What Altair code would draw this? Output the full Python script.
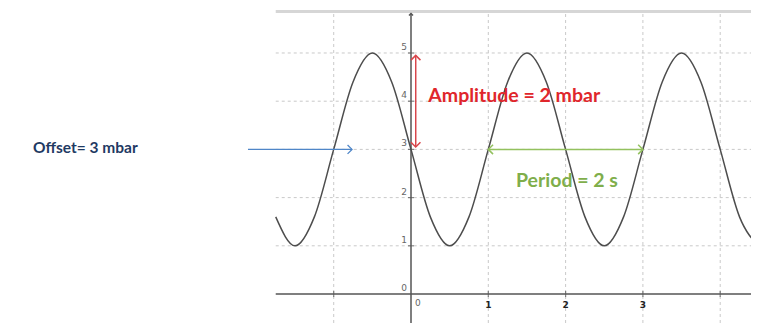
import altair as alt
import pandas as pd

# ---- data ----
curve_x = [-1.75, -1.5, -1.25, -1.0, -0.75, -0.5, -0.25, 0.0, 0.25, 0.5, 0.75, 1.0, 1.25,
           1.5, 1.75, 2.0, 2.25, 2.5, 2.75, 3.0, 3.25, 3.5, 3.75, 4.0, 4.25, 4.5]
curve_y = [1.6, 1.0, 1.6, 3.0, 4.4, 5.0, 4.4, 3.0, 1.6, 1.0, 1.6, 3.0, 4.4,
           5.0, 4.4, 3.0, 1.6, 1.0, 1.6, 3.0, 4.4, 5.0, 4.4, 3.0, 1.6, 1.0]
grid_x = [-1, 1, 2, 3, 4]
grid_y = [1, 2, 3, 4, 5]
x_tick_values = [1, 2, 3]
x_tick_labels = ["1", "2", "3"]
y_tick_values = [0, 1, 2, 3, 4, 5]
y_tick_labels = ["0", "1", "2", "3", "4", "5"]

amplitude_text = "Amplitude = 2 mbar"
period_text = "Period = 2 s"
offset_text = "Offset= 3 mbar"

# ---- scales / view (page area 8..751 x 8..323) ----
X_DOM = [-5.2135, 4.3984]
Y_DOM = [-0.6017, 5.9336]
VIEW_X = [-1.75, 4.3984]
VIEW_Y = [-0.6017, 5.86]

XS = alt.Scale(domain=X_DOM, nice=False, zero=False)
YS = alt.Scale(domain=Y_DOM, nice=False, zero=False)


def X(f):
    return alt.X(f, type="quantitative", scale=XS, axis=None)


def Y(f):
    return alt.Y(f, type="quantitative", scale=YS, axis=None)


def X2(f):
    return alt.X2(f)


def Y2(f):
    return alt.Y2(f)


GRID = "#c9c9c9"
AXIS = "#555555"
RED = "#e0262b"
RED_ARROW = "#d9464b"
GREEN = "#7fae4b"
GREEN_ARROW = "#93c15e"
BLUE = "#4f86c8"
NAVY = "#1f3a63"

RIGHT = "M-1,-1L0,0L-1,1"
LEFT = "M1,-1L0,0L1,1"
UP = "M-1,1L0,0L1,1"
DOWN = "M-1,-1L0,0L1,-1"

# top band
band = alt.Chart(pd.DataFrame({"x": [VIEW_X[0]], "x2": [VIEW_X[1]], "y": [VIEW_Y[1]]})).mark_rule(
    color="#d6d6d6", strokeWidth=3
).encode(x=X("x"), x2=X2("x2"), y=Y("y"))

vgrid = alt.Chart(pd.DataFrame({"x": grid_x, "y": VIEW_Y[0], "y2": VIEW_Y[1]})).mark_rule(
    color=GRID, strokeWidth=1, strokeDash=[3, 3]
).encode(x=X("x"), y=Y("y"), y2=Y2("y2"))

hgrid = alt.Chart(pd.DataFrame({"y": grid_y, "x": VIEW_X[0], "x2": VIEW_X[1]})).mark_rule(
    color=GRID, strokeWidth=1, strokeDash=[3, 3]
).encode(y=Y("y"), x=X("x"), x2=X2("x2"))

xaxis = alt.Chart(pd.DataFrame({"x": [VIEW_X[0]], "x2": [VIEW_X[1]], "y": [0]})).mark_rule(
    color=AXIS, strokeWidth=1.5
).encode(x=X("x"), x2=X2("x2"), y=Y("y"))

yaxis = alt.Chart(pd.DataFrame({"x": [0], "y": [VIEW_Y[0]], "y2": [5.82]})).mark_rule(
    color=AXIS, strokeWidth=1.5
).encode(x=X("x"), y=Y("y"), y2=Y2("y2"))

yarrow = alt.Chart(pd.DataFrame({"x": [0], "y": [5.82]})).mark_point(
    shape=UP, filled=False, size=16, color=AXIS, strokeWidth=1.5, opacity=1
).encode(x=X("x"), y=Y("y"))

xticks = alt.Chart(pd.DataFrame({"x": grid_x, "y": 0})).mark_tick(
    orient="vertical", size=6, thickness=1.2, color=AXIS
).encode(x=X("x"), y=Y("y"))

yticks = alt.Chart(pd.DataFrame({"x": 0, "y": grid_y})).mark_tick(
    orient="horizontal", size=6, thickness=1.2, color=AXIS
).encode(x=X("x"), y=Y("y"))

xlabels = alt.Chart(pd.DataFrame({"x": x_tick_values, "y": 0, "t": x_tick_labels})).mark_text(
    font="DejaVu Sans", fontSize=9, fontWeight="bold", color="#222222", baseline="top", dy=7
).encode(x=X("x"), y=Y("y"), text="t:N")

xzero = alt.Chart(pd.DataFrame({"x": [0], "y": [0], "t": ["0"]})).mark_text(
    font="DejaVu Sans", fontSize=9, color="#666666", baseline="top", align="left", dx=4, dy=5
).encode(x=X("x"), y=Y("y"), text="t:N")

ylabels = alt.Chart(pd.DataFrame({"x": 0, "y": y_tick_values, "t": y_tick_labels})).mark_text(
    font="DejaVu Sans", fontSize=9, color="#666666", baseline="bottom", align="right", dx=-4, dy=-1
).encode(x=X("x"), y=Y("y"), text="t:N")

curve = alt.Chart(pd.DataFrame({"x": curve_x, "y": curve_y})).mark_line(
    color="#4d4d4d", strokeWidth=1.5, interpolate="monotone", clip=True
).encode(x=X("x"), y=Y("y"), order="x:Q")

# amplitude arrow (red, vertical)
amp_line = alt.Chart(pd.DataFrame({"x": [0.061], "y": [4.95], "y2": [3.05]})).mark_rule(
    color=RED_ARROW, strokeWidth=1.5
).encode(x=X("x"), y=Y("y"), y2=Y2("y2"))
amp_heads = alt.Chart(pd.DataFrame({"x": [0.061, 0.061], "y": [4.95, 3.05], "s": [UP, DOWN]})).mark_point(
    filled=False, size=90, color=RED_ARROW, strokeWidth=1.5, opacity=1
).encode(x=X("x"), y=Y("y"), shape=alt.Shape("s:N", scale=None))
amp_txt = alt.Chart(pd.DataFrame({"x": [0.224], "y": [3.99], "t": [amplitude_text]})).mark_text(
    font="Lato", fontSize=19.5, fontWeight="bold", color=RED, align="left", baseline="alphabetic"
).encode(x=X("x"), y=Y("y"), text="t:N")

# period arrow (green, horizontal)
per_line = alt.Chart(pd.DataFrame({"x": [1.0], "x2": [3.0], "y": [3.0]})).mark_rule(
    color=GREEN_ARROW, strokeWidth=1.5
).encode(x=X("x"), x2=X2("x2"), y=Y("y"))
per_heads = alt.Chart(pd.DataFrame({"x": [1.0, 3.0], "y": [3.0, 3.0], "s": [LEFT, RIGHT]})).mark_point(
    filled=False, size=90, color=GREEN_ARROW, strokeWidth=1.5, opacity=1
).encode(x=X("x"), y=Y("y"), shape=alt.Shape("s:N", scale=None))
per_txt = alt.Chart(pd.DataFrame({"x": [1.358], "y": [2.21], "t": [period_text]})).mark_text(
    font="Lato", fontSize=19.5, fontWeight="bold", color=GREEN, align="left", baseline="alphabetic"
).encode(x=X("x"), y=Y("y"), text="t:N")

# offset arrow (blue)
off_line = alt.Chart(pd.DataFrame({"x": [-2.109], "x2": [-0.763], "y": [3.0]})).mark_rule(
    color=BLUE, strokeWidth=1.3
).encode(x=X("x"), x2=X2("x2"), y=Y("y"))
off_head = alt.Chart(pd.DataFrame({"x": [-0.763], "y": [3.0]})).mark_point(
    shape=RIGHT, filled=False, size=80, color=BLUE, strokeWidth=1.3, opacity=1
).encode(x=X("x"), y=Y("y"))
off_txt = alt.Chart(pd.DataFrame({"x": [-4.89], "y": [2.92], "t": [offset_text]})).mark_text(
    font="Lato", fontSize=15.5, fontWeight="bold", color=NAVY, align="left", baseline="alphabetic"
).encode(x=X("x"), y=Y("y"), text="t:N")

chart = alt.layer(
    band, vgrid, hgrid, xaxis, yaxis, yarrow, xticks, yticks,
    xlabels, xzero, ylabels, curve,
    amp_line, amp_heads, amp_txt,
    per_line, per_heads, per_txt,
    off_line, off_head, off_txt,
).properties(
    width=743, height=315, padding=0, autosize=alt.AutoSizeParams(type="none"),
    background="white",
).configure_view(stroke=None)

chart.save("out.html", embed_options={"renderer": "svg", "actions": False})
